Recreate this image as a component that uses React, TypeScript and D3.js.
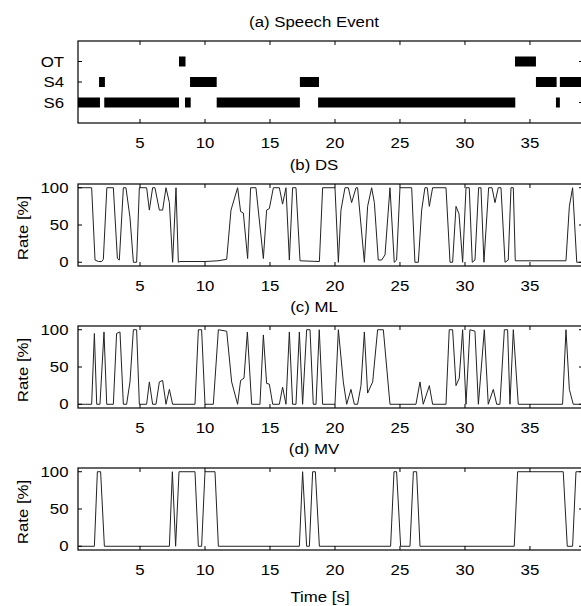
import React, { useEffect, useRef } from 'react';
import * as d3 from 'd3';

// speaker rows in panel (a)
const speakers = ['S6', 'S4', 'OT'];

// speech segments [start s, end s]
const segS6 = [[0.23, 1.92], [2.25, 8.0], [8.46, 8.9], [10.9, 17.3], [18.7, 33.87], [37.0, 37.3]];
const segS4 = [[1.85, 2.3], [8.85, 10.9], [17.3, 18.77], [35.46, 37.05], [37.3, 39.2]];
const segOT = [[8.0, 8.5], [33.85, 35.46]];

const xTicks = [5, 10, 15, 20, 25, 30, 35];
const rateTicks = [0, 50, 100];

// [time s, rate %]
const dsRate = [
  [0.26, 100], [1.28, 100], [1.54, 3], [1.8, 1], [2.05, 1], [2.18, 4], [2.45, 100], [2.95, 100],
  [3.26, 5], [3.41, 3], [3.72, 100], [3.92, 100], [4.23, 60], [4.49, 0], [4.74, 0], [4.95, 100],
  [5.51, 100], [5.72, 70], [5.97, 100], [6.15, 100], [6.49, 70], [6.74, 70], [7.0, 100], [7.26, 80],
  [7.51, 0], [7.77, 100], [7.95, 0], [8.08, 1], [10.0, 1], [11.0, 2], [11.67, 4], [12.0, 70],
  [12.51, 100], [12.74, 68], [12.95, 66], [13.28, 5], [13.51, 100], [13.92, 100], [14.49, 5],
  [14.74, 70], [14.95, 72], [15.26, 100], [15.72, 100], [15.97, 78], [16.23, 100], [16.49, 3],
  [16.74, 100], [17.0, 100], [17.31, 2], [18.8, 1], [19.05, 100], [20.0, 100], [20.26, 0],
  [20.46, 70], [20.77, 100], [21.03, 100], [21.28, 80], [21.62, 100], [21.74, 100], [22.26, 0],
  [22.51, 75], [22.82, 100], [23.03, 80], [23.33, 3], [23.59, 3], [23.85, 10], [24.23, 100],
  [24.56, 0], [24.74, 3], [25.0, 100], [25.9, 100], [26.15, 0], [26.41, 0], [26.67, 70],
  [26.92, 100], [27.1, 100], [27.26, 75], [27.51, 100], [28.54, 100], [28.85, 0], [29.05, 0],
  [29.31, 75], [29.54, 65], [29.82, 0], [30.08, 100], [30.33, 100], [30.56, 0], [30.77, 3],
  [31.05, 100], [31.23, 100], [31.46, 0], [31.82, 100], [32.08, 100], [32.31, 80], [32.56, 100],
  [32.77, 100], [33.08, 0], [33.33, 3], [33.54, 100], [33.72, 100], [33.87, 2], [37.77, 2],
  [38.03, 75], [38.28, 100], [38.6, 0], [39.1, 0],
];

const mlRate = [
  [0.26, 0], [1.28, 0], [1.49, 95], [1.67, 0], [1.92, 0], [2.23, 97], [2.44, 0], [2.95, 0],
  [3.2, 95], [3.46, 97], [3.72, 0], [3.97, 0], [4.23, 30], [4.49, 100], [4.74, 100], [4.95, 0],
  [5.51, 0], [5.72, 30], [5.97, 0], [6.23, 0], [6.49, 30], [6.74, 32], [7.0, 0], [7.26, 20],
  [7.51, 0], [9.23, 0], [9.49, 100], [9.74, 100], [10.0, 0], [10.64, 0], [11.03, 100],
  [11.67, 98], [12.05, 30], [12.51, 0], [12.74, 32], [13.0, 35], [13.26, 97], [13.59, 0],
  [14.23, 0], [14.49, 93], [14.74, 28], [14.95, 27], [15.21, 0], [15.72, 0], [15.97, 23],
  [16.23, 0], [16.49, 97], [16.74, 0], [17.0, 0], [17.26, 97], [17.51, 0], [17.82, 100],
  [18.08, 100], [18.33, 0], [18.54, 0], [18.79, 100], [19.05, 0], [20.0, 0], [20.26, 100],
  [20.64, 30], [20.9, 0], [21.23, 20], [21.49, 0], [21.74, 0], [22.0, 25], [22.26, 97],
  [22.51, 15], [22.9, 30], [23.28, 100], [23.72, 100], [24.23, 0], [26.23, 0], [26.54, 30],
  [26.79, 0], [27.26, 25], [27.51, 0], [28.54, 0], [28.79, 100], [29.05, 100], [29.31, 25],
  [29.56, 35], [29.82, 100], [30.08, 0], [30.38, 100], [30.77, 98], [31.03, 0], [31.49, 100],
  [31.79, 0], [32.18, 20], [32.44, 0], [32.69, 0], [33.03, 100], [33.28, 100], [33.46, 0],
  [33.72, 100], [34.1, 0], [37.51, 0], [37.77, 100], [38.03, 20], [38.33, 0], [39.1, 0],
];

const mvRate = [
  [0.26, 0], [1.49, 0], [1.72, 100], [1.97, 100], [2.26, 0], [7.26, 0], [7.49, 100], [7.74, 0],
  [8.0, 100], [9.23, 100], [9.49, 0], [9.74, 0], [10.0, 100], [10.77, 100], [11.03, 0],
  [17.26, 0], [17.51, 100], [17.82, 0], [18.03, 0], [18.28, 100], [18.49, 100], [18.8, 0],
  [24.28, 0], [24.54, 100], [24.74, 100], [25.05, 0], [25.77, 0], [26.03, 100], [26.28, 100],
  [26.54, 0], [33.79, 0], [34.05, 100], [37.56, 100], [37.87, 0], [38.28, 0], [38.54, 100],
  [39.1, 100],
];

const rateSeries = [
  { title: '(b) DS', data: dsRate },
  { title: '(c) ML', data: mlRate },
  { title: '(d) MV', data: mvRate },
];

const App = () => {
  const ref = useRef<SVGSVGElement>(null);

  useEffect(() => {
    document.body.style.margin = '0';
    const svg = d3.select(ref.current);
    svg.selectAll('*').remove();

    const left = 78;
    const right = 583;
    const panelH = 82;
    const tops = [41, 184, 326, 468];
    const font = '"Liberation Sans", Arial, Helvetica, sans-serif';
    const fs = 14;
    const tickLen = 4;

    const x = d3.scaleLinear().domain([0.23, 39.08]).range([left, right]);

    svg.append('defs').selectAll('clipPath')
      .data(tops)
      .join('clipPath')
      .attr('id', (d, i) => `clip${i}`)
      .append('rect')
      .attr('x', left).attr('y', d => d)
      .attr('width', right - left).attr('height', panelH);

    const frame = (g, top, y, yTicks) => {
      const bottom = top + panelH;
      g.append('rect')
        .attr('x', left).attr('y', top)
        .attr('width', right - left).attr('height', panelH)
        .attr('fill', 'none').attr('stroke', '#000').attr('stroke-width', 1.2);
      // x ticks point inward, top and bottom
      g.selectAll('.xt')
        .data(xTicks)
        .join('path')
        .attr('d', d => `M${x(d)},${bottom}v${-tickLen}M${x(d)},${top}v${tickLen}`)
        .attr('stroke', '#000');
      g.selectAll('.xl')
        .data(xTicks)
        .join('text')
        .attr('x', d => x(d)).attr('y', bottom + 25)
        .attr('text-anchor', 'middle')
        .text(d => d);
      g.selectAll('.yt')
        .data(yTicks)
        .join('path')
        .attr('d', d => `M${left},${y(d)}h${tickLen}M${right},${y(d)}h${-tickLen}`)
        .attr('stroke', '#000');
    };

    const title = (top, t) => {
      svg.append('text')
        .attr('x', 314).attr('y', top - 14)
        .attr('text-anchor', 'middle')
        .text(t);
    };

    // (a) speech events
    const ya = d3.scaleLinear().domain([0, 4]).range([tops[0] + panelH, tops[0]]);
    const gA = svg.append('g');
    title(tops[0], '(a) Speech Event');
    const rows = [segS6, segS4, segOT];
    rows.forEach((segs, i) => {
      gA.append('g')
        .attr('clip-path', 'url(#clip0)')
        .selectAll('rect')
        .data(segs)
        .join('rect')
        .attr('x', d => x(d[0]))
        .attr('width', d => x(d[1]) - x(d[0]))
        .attr('y', ya(i + 1) - 5)
        .attr('height', 10)
        .attr('fill', '#000');
    });
    frame(gA, tops[0], ya, [1, 2, 3]);
    gA.selectAll('.cat')
      .data(speakers)
      .join('text')
      .attr('x', left - 14)
      .attr('y', (d, i) => ya(i + 1))
      .attr('dy', '0.36em')
      .attr('text-anchor', 'end')
      .text(d => d);

    // (b)-(d) rates
    rateSeries.forEach((s, k) => {
      const top = tops[k + 1];
      const y = d3.scaleLinear().domain([-5, 105]).range([top + panelH, top]);
      const g = svg.append('g');
      title(top, s.title);
      const line = d3.line()
        .x(d => x(d[0]))
        .y(d => y(d[1]));
      g.append('path')
        .datum(s.data)
        .attr('clip-path', `url(#clip${k + 1})`)
        .attr('fill', 'none')
        .attr('stroke', '#222')
        .attr('stroke-width', 1)
        .attr('d', line);
      frame(g, top, y, rateTicks);
      g.selectAll('.yl')
        .data(rateTicks)
        .join('text')
        .attr('x', left - 9.5)
        .attr('y', d => y(d))
        .attr('dy', '0.36em')
        .attr('text-anchor', 'end')
        .text(d => d);
      g.append('text')
        .attr('transform', `translate(28,${top + panelH / 2 + 3}) rotate(-90)`)
        .attr('text-anchor', 'middle')
        .text('Rate [%]');
    });

    svg.append('text')
      .attr('x', 320).attr('y', 602)
      .attr('text-anchor', 'middle')
      .text('Time [s]');

    // the source figure's lettering is wider than plain Helvetica, so widen every text a bit
    svg.selectAll('text')
      .attr('font-family', font)
      .attr('font-size', fs)
      .each(function () {
        const w = (this as SVGTextElement).getComputedTextLength();
        d3.select(this)
          .attr('textLength', w * 1.2)
          .attr('lengthAdjust', 'spacingAndGlyphs');
      });
  }, []);

  return <svg ref={ref} width="581" height="606" style={{ display: 'block', background: '#fff' }}></svg>;
};

export default App;
